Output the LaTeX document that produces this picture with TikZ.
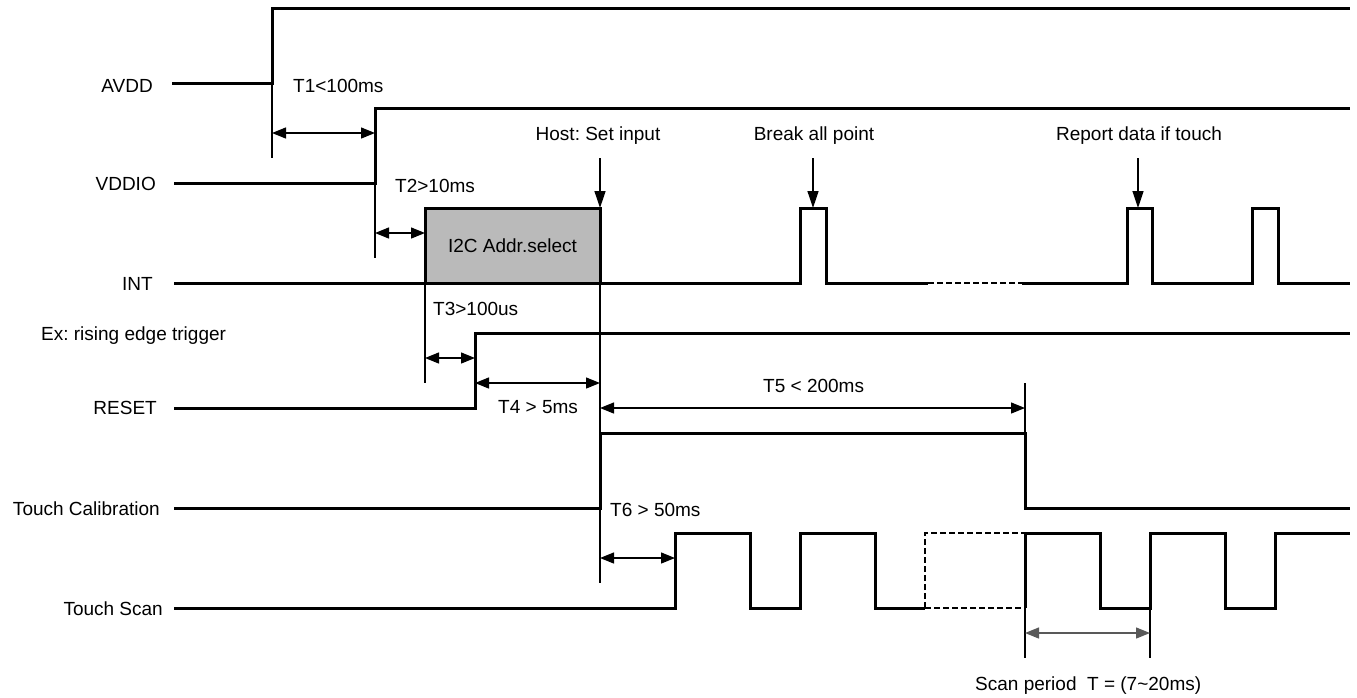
\documentclass[tikz,border=0pt]{standalone}
\usepackage{fontspec}
\setmainfont{Liberation Sans}
\usetikzlibrary{arrows.meta}
\frenchspacing

\begin{document}
\begin{tikzpicture}[x=1pt,y=-1pt,
  sig/.style={line width=3pt},
  dsig/.style={line width=2.2pt,dash pattern=on 6pt off 3pt},
  guide/.style={line width=1.3pt},
  dim/.style={line width=1.3pt,{Triangle[length=14pt,width=11pt]}-{Triangle[length=14pt,width=11pt]}},
  period/.style={dim,draw=black!65,fill=black!65},
  pointer/.style={line width=1.3pt,-{Triangle[length=17pt,width=11pt]}},
  txt/.style={font=\fontsize{19}{22}\selectfont,inner sep=0pt},
  signame/.style={txt,anchor=base east},
  addrbox/.style={txt,draw,line width=3pt,fill=black!27,minimum width=175pt,minimum height=75pt}]
\useasboundingbox (0,0) rectangle (1357,697);
% signal names
\node[signame] (avdd) at (153,92) {AVDD};
\node[signame] (vddio) at (156,190) {VDDIO};
\node[signame] (int) at (153,290) {INT};
\node[txt,anchor=base west] (trig) at (41,340) {Ex: rising edge trigger};
\node[signame] (reset) at (157,414) {RESET};
\node[signame] (tcal) at (160,515) {Touch Calibration};
\node[signame] (tscan) at (163,615) {Touch Scan};
% waveforms
\draw[sig] (172,83) -- (272,83) -- (272,8) -- (1350,8);
\draw[sig] (174,183) -- (375,183) -- (375,108) -- (1350,108);
\node[addrbox] (i2c) at (512.5,245.5) {I2C Addr.select};
\draw[sig] (174,283) -- (800,283) -- (800,208) -- (826,208) -- (826,283) -- (928,283);
\draw[dsig] (928,283) -- (1022,283);
\draw[sig] (1022,283) -- (1127,283) -- (1127,208) -- (1152,208) -- (1152,283) -- (1252,283)
  -- (1252,208) -- (1278,208) -- (1278,283) -- (1350,283);
\draw[sig] (174,408) -- (475,408) -- (475,333) -- (1350,333);
\draw[sig] (174,508) -- (600,508) -- (600,433) -- (1025,433) -- (1025,508) -- (1350,508);
\draw[sig] (174,608) -- (675,608) -- (675,533) -- (750,533) -- (750,608) -- (800,608)
  -- (800,533) -- (875,533) -- (875,608) -- (925,608);
\draw[dsig] (925,608) -- (1025,608) (925,608) -- (925,533) -- (1025,533);
\draw[sig] (1025,608) -- (1025,533) -- (1100,533) -- (1100,608) -- (1150,608) -- (1150,533)
  -- (1225,533) -- (1225,608) -- (1275,608) -- (1275,533) -- (1350,533);
% extension lines
\coordinate (g1a) at (272,83);   \coordinate (g1b) at (272,158);
\coordinate (g2a) at (375,183);  \coordinate (g2b) at (375,258);
\coordinate (g3a) at (425,283);  \coordinate (g3b) at (425,383);
\coordinate (g4a) at (600,283);  \coordinate (g4b) at (600,583);
\coordinate (g5a) at (1025,383); \coordinate (g5b) at (1025,433);
\coordinate (g6a) at (1025,608); \coordinate (g6b) at (1025,658);
\coordinate (g7a) at (1150,608); \coordinate (g7b) at (1150,658);
\draw[guide] (g1a) -- (g1b) (g2a) -- (g2b) (g3a) -- (g3b) (g4a) -- (g4b)
  (g5a) -- (g5b) (g6a) -- (g6b) (g7a) -- (g7b);
% timing arrows
\coordinate (t1a) at (272,133);  \coordinate (t1b) at (375,133);
\coordinate (t2a) at (375,233);  \coordinate (t2b) at (425,233);
\coordinate (t3a) at (425,358);  \coordinate (t3b) at (475,358);
\coordinate (t4a) at (475,383);  \coordinate (t4b) at (600,383);
\coordinate (t5a) at (600,408);  \coordinate (t5b) at (1025,408);
\coordinate (t6a) at (600,558);  \coordinate (t6b) at (675,558);
\coordinate (tpa) at (1025,633); \coordinate (tpb) at (1150,633);
\draw[dim] (t1a) -- (t1b);
\draw[dim] (t2a) -- (t2b);
\draw[dim] (t3a) -- (t3b);
\draw[dim] (t4a) -- (t4b);
\draw[dim] (t5a) -- (t5b);
\draw[dim] (t6a) -- (t6b);
\draw[period] (tpa) -- (tpb);
\node[txt,anchor=base west] (t1) at (293,92) {T1<100ms};
\node[txt,anchor=base west] (t2) at (395,192) {T2>10ms};
\node[txt,anchor=base west] (t3) at (433,315) {T3>100us};
\node[txt,anchor=base west] (t4) at (498,413) {T4 > 5ms};
\node[txt,anchor=base west] (t5) at (763,392) {T5 < 200ms};
\node[txt,anchor=base west] (t6) at (610,516) {T6 > 50ms};
\node[txt,anchor=base west] (scan) at (975,690) {Scan period\ \ T = (7\textasciitilde20ms)};
% events on INT
\node[txt,anchor=base] (host) at (598,140) {Host: Set input};
\node[txt,anchor=base] (brk) at (814,140) {Break all point};
\node[txt,anchor=base] (rpt) at (1139,140) {Report data if touch};
\coordinate (p1a) at (600,158);  \coordinate (p1b) at (600,208);
\coordinate (p2a) at (813,158);  \coordinate (p2b) at (813,208);
\coordinate (p3a) at (1138,158); \coordinate (p3b) at (1138,208);
\draw[pointer] (p1a) -- (p1b);
\draw[pointer] (p2a) -- (p2b);
\draw[pointer] (p3a) -- (p3b);
\end{tikzpicture}
\end{document}
